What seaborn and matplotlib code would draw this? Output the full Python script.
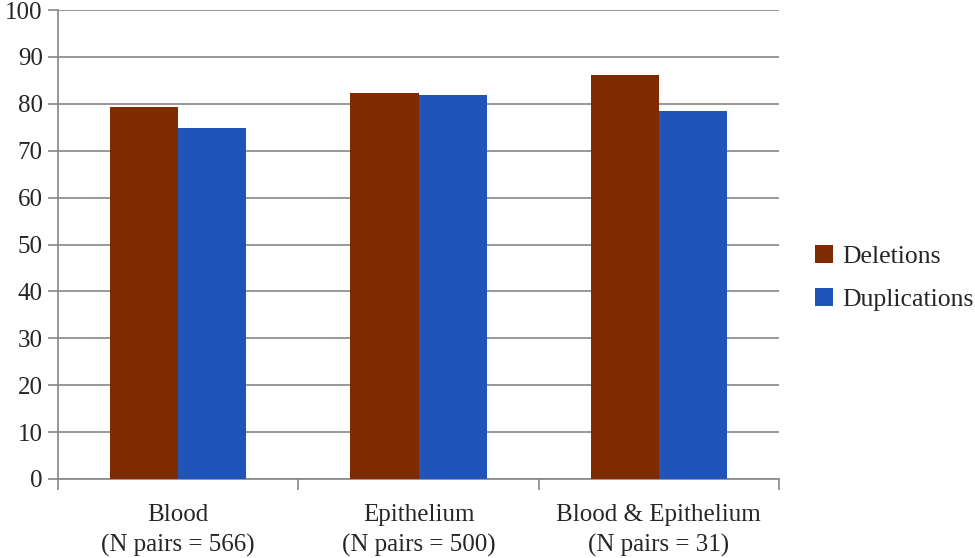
import pandas as pd
import seaborn as sns
import matplotlib.pyplot as plt
from matplotlib.ticker import FixedLocator

categories = ['Blood\n(N pairs = 566)', 'Epithelium\n(N pairs = 500)', 'Blood & Epithelium\n(N pairs = 31)']
deletions = [79.3, 82.4, 86.1]
duplications = [74.9, 81.9, 78.5]
series = ['Deletions', 'Duplications']
colors = ['#7f2a00', '#1f55b8']

df = pd.DataFrame({
    'category': categories * 2,
    'type': [series[0]] * 3 + [series[1]] * 3,
    'value': deletions + duplications,
})

sns.set_style('white')
plt.rcParams['font.family'] = ['Liberation Serif', 'DejaVu Serif']

fig, ax = plt.subplots(figsize=(9.75, 5.58), dpi=100)
fig.subplots_adjust(left=0.0595, right=0.799, top=0.982, bottom=0.1416)

sns.barplot(data=df, x='category', y='value', hue='type', palette=colors,
            width=0.567, saturation=1, linewidth=0, ax=ax, zorder=3)

ax.set_ylim(0, 100)
ax.set_xlim(-0.5, 2.5)
ax.set_yticks(range(0, 101, 10))
ax.yaxis.grid(True, color='#868686', linewidth=1.2, zorder=0)
ax.set_xlabel('')
ax.set_ylabel('')

for side in ['top', 'right']:
    ax.spines[side].set_visible(False)
for side in ['left', 'bottom']:
    ax.spines[side].set_color('#868686')
    ax.spines[side].set_linewidth(1.2)

ax.tick_params(axis='y', length=7, width=1.2, color='#868686', direction='out',
               labelsize=18, pad=4, left=True)
ax.tick_params(axis='x', which='major', length=0, labelsize=18, pad=18)
for lbl in ax.get_xticklabels():
    lbl.set_linespacing(1.45)
ax.xaxis.set_minor_locator(FixedLocator([-0.5, 0.5, 1.5, 2.5]))
ax.tick_params(axis='x', which='minor', length=8, width=1.2, color='#868686',
               direction='out', bottom=True)

ax.legend(loc='center left', bbox_to_anchor=(0.836, 1 - 278 / 558),
          bbox_transform=fig.transFigure, frameon=False, borderpad=0, borderaxespad=0,
          fontsize=18.5, handlelength=0.7, handleheight=0.7, handletextpad=0.35,
          labelspacing=0.75)

fig.savefig('out.png', dpi=100)
